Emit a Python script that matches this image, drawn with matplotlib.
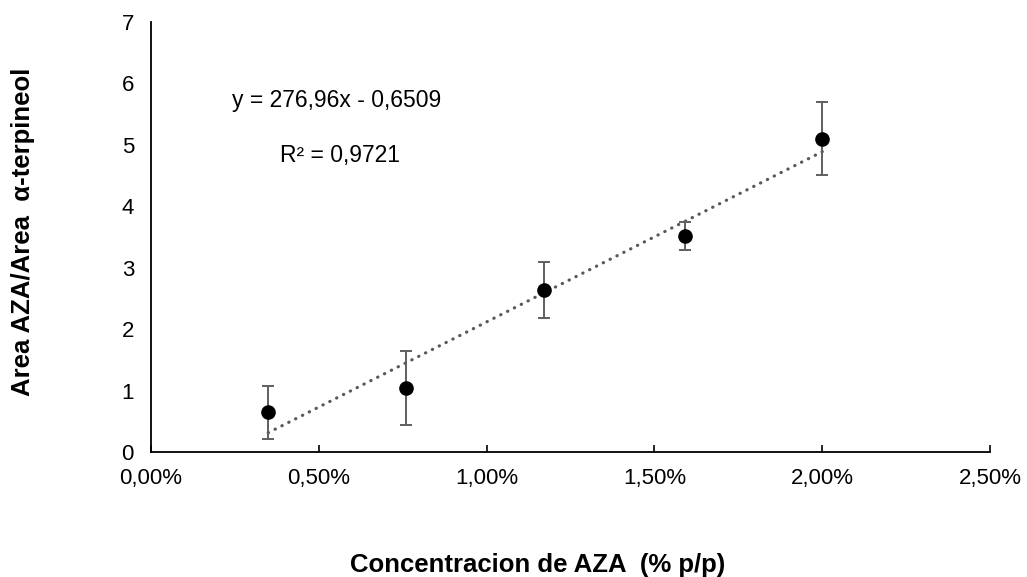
import matplotlib
matplotlib.use("Agg")
import matplotlib.pyplot as plt
import numpy as np

plt.rcParams['font.family'] = ['Liberation Sans', 'DejaVu Sans']

# concentracion de AZA (fraccion p/p) y relacion de areas
conc = [0.0035, 0.0076, 0.0117, 0.0159, 0.0200]
ratio = [0.65, 1.04, 2.64, 3.52, 5.10]
err = [0.43, 0.60, 0.45, 0.23, 0.60]

slope = 276.96
intercept = -0.6509
r2 = 0.9721

xticks = [0.0, 0.005, 0.010, 0.015, 0.020, 0.025]
xtick_labels = ['0,00%', '0,50%', '1,00%', '1,50%', '2,00%', '2,50%']
yticks = [0, 1, 2, 3, 4, 5, 6, 7]

fig = plt.figure(figsize=(10.27, 5.77), dpi=100)
ax = fig.add_axes([0.1467, 0.2161, 0.8176, 0.7463])

# linea de tendencia
xt = np.array([conc[0], conc[-1]])
ax.plot(xt, slope * xt + intercept, color='#595959', lw=2.3,
        linestyle=(0, (0.1, 2.3)), dash_capstyle='round', zorder=2)

ax.errorbar(conc, ratio, yerr=err, fmt='o', color='black', ms=9.5,
            ecolor='#5f5f5f', elinewidth=1.4, capsize=4.5, capthick=1.4, zorder=3)

ax.set_xlim(0, 0.025)
ax.set_ylim(0, 7)
ax.set_xticks(xticks)
ax.set_xticklabels(xtick_labels)
ax.set_yticks(yticks)

for s in ['top', 'right']:
    ax.spines[s].set_visible(False)
for s in ['left', 'bottom']:
    ax.spines[s].set_linewidth(1.3)
    ax.spines[s].set_color('black')

ax.tick_params(axis='x', direction='in', length=5, width=1.2, pad=11, labelsize=16)
ax.tick_params(axis='y', length=0, pad=12, labelsize=16)

fig.text(231.7 / 1027, 1 - 100 / 577, 'y = 276,96x - 0,6509', fontsize=16.5,
         va='center', ha='left')
fig.text(280 / 1027, 1 - 156 / 577, 'R² = 0,9721', fontsize=16.5,
         va='center', ha='left')

fig.text(538 / 1027, 1 - 565 / 577, 'Concentracion de AZA  (% p/p)', fontsize=18.5,
         fontweight='bold', ha='center', va='center')
fig.text(23 / 1027, 1 - 232 / 577, 'Area AZA/Area  α-terpineol', fontsize=18.5,
         fontweight='bold', ha='center', va='center', rotation=90)

fig.savefig('out.png', dpi=100)
